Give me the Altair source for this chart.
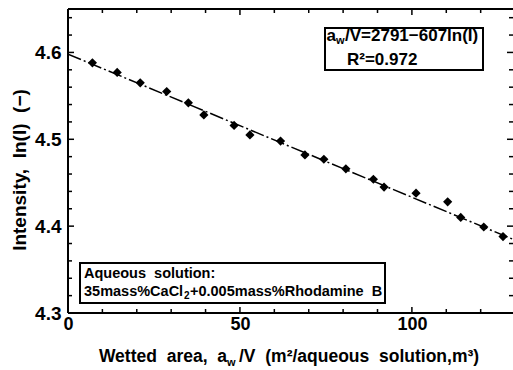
import altair as alt
import pandas as pd

# ---- data ----
aw_v = [7.1, 14.3, 21.0, 28.7, 35.0, 39.5, 48.3, 52.9, 61.8, 68.9,
        74.4, 80.8, 88.8, 91.9, 101.2, 110.4, 114.2, 120.9, 126.5]
ln_i = [4.588, 4.577, 4.565, 4.555, 4.542, 4.528, 4.516, 4.505, 4.498, 4.482,
        4.477, 4.466, 4.454, 4.445, 4.438, 4.428, 4.410, 4.399, 4.388]
fit_a = 2791   # aw/V = fit_a - fit_b * ln(I)
fit_b = 607
x_range = [0, 129.4]
y_range = [4.3, 4.65]
x_major = [0, 50, 100]
x_minor = [10, 20, 30, 40, 60, 70, 80, 90, 110, 120]
y_major = [4.3, 4.4, 4.5, 4.6]
y_minor = [4.32, 4.34, 4.36, 4.38, 4.42, 4.44, 4.46, 4.48,
           4.52, 4.54, 4.56, 4.58, 4.62, 4.64]

W, H = 445, 304
F = "Liberation Sans"
SP = "\u00a0"

pts = pd.DataFrame({"x": aw_v, "y": ln_i})
fit = pd.DataFrame({"x": x_range, "y": [(fit_a - v) / fit_b for v in x_range]})
one = pd.DataFrame({"k": [0]})

xs = alt.Scale(domain=x_range, nice=False, zero=False)
ys = alt.Scale(domain=y_range, nice=False, zero=False)

xaxis = alt.Axis(values=x_major, format="d", title=None, ticks=False, domain=False,
                 grid=False, labelFont=F, labelFontSize=18, labelFontWeight="bold",
                 labelColor="black", labelPadding=2, labelFlush=False,
                 labelOverlap=False, labelBound=False)
yaxis = alt.Axis(values=y_major, format=".1f", title=None, ticks=False, domain=False,
                 grid=False, labelFont=F, labelFontSize=19, labelFontWeight="bold",
                 labelColor="black", labelPadding=7, labelFlush=False,
                 labelOverlap=False, labelBound=False)

X = lambda: alt.X("x:Q", scale=xs, axis=xaxis)
Y = lambda: alt.Y("y:Q", scale=ys, axis=yaxis)

layers = []

# data points first (carries the axes)
layers.append(
    alt.Chart(pts).mark_point(shape="diamond", filled=True, size=85, color="black", opacity=1)
    .encode(x=X(), y=Y())
)

# frame (left, top, bottom)
def frame(**enc):
    return alt.Chart(one).mark_rule(color="black", strokeWidth=2).encode(**enc)

layers.append(frame(x=alt.value(0), y=alt.value(0), y2=alt.value(H)))
layers.append(frame(x=alt.value(0), x2=alt.value(W), y=alt.value(0)))
layers.append(frame(x=alt.value(0), x2=alt.value(W), y=alt.value(H)))

# ticks (inward, on all four sides)
def xticks(vals, ln):
    d = pd.DataFrame({"x": vals})
    b = alt.Chart(d).mark_rule(color="black", strokeWidth=1.5)
    return [
        b.encode(x=X(), y=alt.value(H), y2=alt.value(H - ln)),
        b.encode(x=X(), y=alt.value(0), y2=alt.value(ln)),
    ]

def yticks(vals, ln):
    d = pd.DataFrame({"y": vals})
    b = alt.Chart(d).mark_rule(color="black", strokeWidth=1.5)
    return [
        b.encode(y=Y(), x=alt.value(0), x2=alt.value(ln)),
        b.encode(y=Y(), x=alt.value(W), x2=alt.value(W - ln)),
    ]

layers += xticks(x_major, 6) + xticks(x_minor, 4) + yticks(y_major, 6) + yticks(y_minor, 4)

# fitted line
layers.append(
    alt.Chart(fit).mark_line(color="black", strokeWidth=1.5, strokeDash=[14, 3, 2, 3], clip=True)
    .encode(x=X(), y=Y())
)

# annotation boxes
def box(x1, x2, y1, y2):
    return alt.Chart(one).mark_rect(fill="white", stroke="black", strokeWidth=2).encode(
        x=alt.value(x1), x2=alt.value(x2), y=alt.value(y1), y2=alt.value(y2))

def txt(s, x, y, size, align="left"):
    return alt.Chart(one).mark_text(
        text=s, align=align, baseline="alphabetic", font=F, fontSize=size,
        fontWeight="bold", color="black"
    ).encode(x=alt.value(x), y=alt.value(y))

layers.append(box(257, 415, 19, 61))
layers.append(txt("a", 268, 32, 17, align="right"))
layers.append(txt("w", 268, 35, 11))
layers.append(txt("/V=2791\u2212607ln(I)", 277, 32, 17))
layers.append(txt("R\u00b2=0.972", 279, 56, 17))

layers.append(box(12, 317, 254, 294))
layers.append(txt("Aqueous" + SP + SP + "solution:", 16, 269, 14.5))
layers.append(txt("35mass%CaCl", 16, 287, 14.5))
layers.append(txt("2", 116, 290, 10))
layers.append(txt("+0.005mass%Rhodamine" + SP + SP + "B", 122, 287, 14.5))

# axis titles
layers.append(txt("Wetted" + SP + SP + "area," + SP + SP + "a", 159, 353, 17.5, align="right"))
layers.append(txt("w", 159, 357, 11))
layers.append(txt("/V" + SP + SP + "(m\u00b2/aqueous" + SP + SP + "solution,m\u00b3)", 171, 353, 17.5))
layers.append(
    alt.Chart(one).mark_text(
        text="Intensity," + SP + SP + "ln(I)" + SP + SP + "(\u2212)", align="center",
        baseline="middle", font=F, fontSize=19, fontWeight="bold", color="black", angle=270
    ).encode(x=alt.value(-48), y=alt.value(161))
)

chart = alt.layer(*layers).properties(
    width=W, height=H,
    padding={"left": 68, "top": 9, "right": 0, "bottom": 57},
    autosize=alt.AutoSizeParams(type="none"),
    background="white",
).configure_view(stroke=None)

chart.save("out.html", embed_options={"renderer": "svg", "actions": False})
